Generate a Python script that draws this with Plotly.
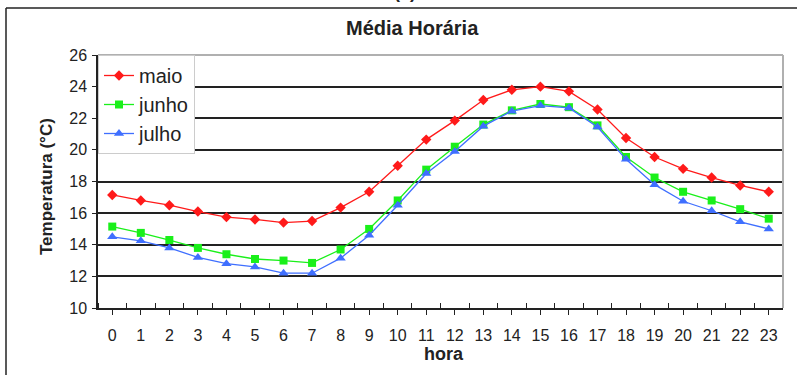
import plotly.graph_objects as go

# Hourly mean temperature (°C) for May, June and July
horas = list(range(24))
hora_labels = [str(h) for h in horas]

maio = [17.15, 16.8, 16.5, 16.1, 15.75, 15.6, 15.4, 15.5, 16.35, 17.35, 19.0, 20.65,
        21.85, 23.15, 23.8, 24.0, 23.7, 22.55, 20.75, 19.55, 18.8, 18.25, 17.75, 17.35]
junho = [15.15, 14.75, 14.3, 13.8, 13.4, 13.1, 13.0, 12.85, 13.7, 15.0, 16.8, 18.75,
         20.2, 21.6, 22.5, 22.9, 22.7, 21.55, 19.55, 18.25, 17.35, 16.8, 16.25, 15.65]
julho = [14.5, 14.25, 13.8, 13.2, 12.8, 12.6, 12.2, 12.2, 13.15, 14.6, 16.5, 18.5,
         19.9, 21.5, 22.45, 22.8, 22.65, 21.45, 19.4, 17.8, 16.75, 16.15, 15.45, 15.0]
y_ticks = [10, 12, 14, 16, 18, 20, 22, 24, 26]

W, H = 797, 375
L, R, T, B = 98, 14, 55, 67
PW, PH = W - L - R, H - T - B


def px(x):
    return (x - L) / PW


def py(y):
    return (H - B - y) / PH


FONT = "Liberation Sans, Arial, sans-serif"

fig = go.Figure()
series = [
    ("maio", maio, "#FF1A1A", "diamond", 8),
    ("junho", junho, "#1AF01A", "square", 8),
    ("julho", julho, "#3F6FFF", "triangle-up", 9),
]
for name, vals, col, sym, size in series:
    fig.add_trace(go.Scatter(
        x=horas, y=vals, name=name, mode="lines+markers",
        line=dict(color=col, width=1.3),
        marker=dict(symbol=sym, size=size, color=col, line=dict(width=0)),
    ))

fig.update_layout(
    width=W, height=H,
    margin=dict(l=L, r=R, t=T, b=B),
    paper_bgcolor="white", plot_bgcolor="white",
    font=dict(family=FONT, color="#222", size=16),
    showlegend=True,
    legend=dict(
        x=0, y=1, xanchor="left", yanchor="top",
        bgcolor="white", bordercolor="#cccccc", borderwidth=1,
        font=dict(size=20, color="#222"),
        traceorder="normal",
    ),
    xaxis=dict(
        range=[-0.5, 23.5], tickvals=horas, ticktext=hora_labels,
        showgrid=False, zeroline=False,
        showline=True, linecolor="#222", linewidth=1.5,
        ticks="outside", ticklen=5, tickcolor="#222", tickwidth=1,
        minor=dict(tick0=-0.5, dtick=1, ticks="inside", ticklen=5,
                   tickcolor="#222", tickwidth=1, showgrid=False),
        ticklabelstandoff=7,
        tickfont=dict(size=16),
    ),
    yaxis=dict(
        range=[10, 26], tickvals=y_ticks,
        showgrid=True, gridcolor="#222", gridwidth=1.5,
        zeroline=False,
        showline=True, linecolor="#222", linewidth=1.5,
        ticks="outside", ticklen=4, tickcolor="#222", tickwidth=1,
        ticklabelstandoff=2,
        tickfont=dict(size=16),
    ),
)

# Plot frame: grey top/right border, outer page frame lines
fig.add_shape(type="line", xref="paper", yref="paper", x0=0, x1=1, y0=1, y1=1,
              line=dict(color="#b0b0b0", width=2), layer="above")
fig.add_shape(type="line", xref="paper", yref="paper", x0=1, x1=1, y0=0, y1=1,
              line=dict(color="#b0b0b0", width=2), layer="above")
fig.add_shape(type="line", xref="paper", yref="paper",
              x0=px(6), x1=px(W + 2), y0=py(8), y1=py(8),
              line=dict(color="#222", width=1.5))
fig.add_shape(type="line", xref="paper", yref="paper",
              x0=px(6), x1=px(6), y0=py(8), y1=py(H + 5),
              line=dict(color="#222", width=1.5))

fig.add_annotation(text="<b>Média Horária</b>", xref="paper", yref="paper",
                   x=px(412), y=py(28), xanchor="center", yanchor="middle",
                   showarrow=False, font=dict(size=20, color="#222"))
fig.add_annotation(text="<b>(a)</b>", xref="paper", yref="paper",
                   x=px(405), y=py(4), xanchor="center", yanchor="bottom",
                   showarrow=False, font=dict(size=18, color="#222"))
fig.add_annotation(text="<b>Temperatura (°C)</b>", xref="paper", yref="paper",
                   x=px(46), y=py(187), xanchor="center", yanchor="middle",
                   textangle=-90, showarrow=False, font=dict(size=17, color="#222"))
fig.add_annotation(text="<b>hora</b>", xref="paper", yref="paper",
                   x=px(444), y=py(354), xanchor="center", yanchor="middle",
                   showarrow=False, font=dict(size=18, color="#222"))

fig.write_html("out.html")
